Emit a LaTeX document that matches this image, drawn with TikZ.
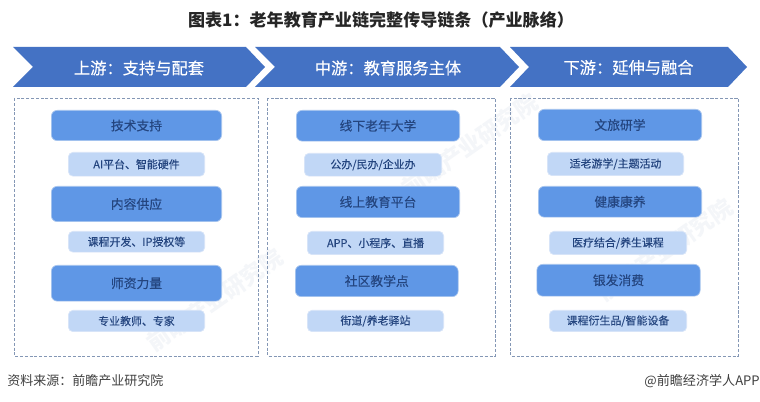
\documentclass[tikz,border=0pt]{standalone}
\usepackage{fontspec}
\setmainfont{Noto Sans CJK SC}
\newfontfamily\semifont[FakeBold=0.25]{Noto Sans CJK SC}
\definecolor{chev}{HTML}{4472C4}
\definecolor{mainfill}{HTML}{5F97E6}
\definecolor{mainedge}{HTML}{A9C6EE}
\definecolor{subfill}{HTML}{C1D7F6}
\definecolor{subedge}{HTML}{D8E5F8}
\definecolor{boxtext}{HTML}{24457F}
\definecolor{dashcol}{HTML}{8497B5}
\definecolor{marktext}{HTML}{F4F6F9}
\tikzset{
  x=0.75pt,y=-0.75pt,
  chevshape/.style={fill=chev,draw=none},
  chevlabel/.style={text=white,font=\semifont\fontsize{12.2pt}{14pt}\selectfont},
  dashbox/.style={draw=dashcol,line width=0.7pt,dash pattern=on 2.3pt off 1.3pt},
  mainbox/.style={fill=mainfill,draw=mainedge,line width=0.5pt,rounded corners=4.5pt,text=boxtext,font=\semifont\fontsize{9.6pt}{11pt}\selectfont},
  subbox/.style={fill=subfill,draw=subedge,line width=0.5pt,rounded corners=3.5pt,text=boxtext,font=\semifont\fontsize{8.2pt}{9pt}\selectfont},
  watermark/.style={text=marktext,rotate=35,font=\bfseries\fontsize{17pt}{20pt}\selectfont},
  titletext/.style={text=black!85,font=\bfseries\fontsize{12.8pt}{15pt}\selectfont},
  foottext/.style={text=black!75,font=\fontsize{9.75pt}{12pt}\selectfont},
  brandtext/.style={text=black!75,font=\fontsize{9.8pt}{12pt}\selectfont},
}
% name, style, x1, y1, x2, y2, text
\newcommand{\pxbox}[7]{%
  \pgfmathsetmacro{\bw}{(#5-#3)*0.75-0.5}%
  \pgfmathsetmacro{\bh}{(#6-#4)*0.75-0.5}%
  \node[#2,inner sep=0pt,minimum width=\bw pt,minimum height=\bh pt] (#1) at ({(#3+#5)/2},{(#4+#6)/2}) {#7};%
}
\begin{document}
\begin{tikzpicture}
\useasboundingbox (0,0) rectangle (760,402);
\fill[white] (0,0) rectangle (760,402);
% faint watermarks
\node[watermark] (wma) at (215,300) {前瞻产业研究院};
\node[watermark] (wmb) at (470,145) {前瞻产业研究院};
\node[watermark] (wmc) at (665,250) {前瞻产业研究院};
% title
\node[titletext] (title) at (381,20) {图表1：老年教育产业链完整传导链条（产业脉络）};
% chevrons
\fill[chevshape] (13,47) -- (246,47) -- (265,67) -- (246,87) -- (13,87) -- (33,67) -- cycle;
\fill[chevshape] (255,47) -- (500,47) -- (519,67) -- (500,87) -- (255,87) -- (275,67) -- cycle;
\fill[chevshape] (510,47) -- (728,47) -- (747,67) -- (728,87) -- (510,87) -- (529,67) -- cycle;
\node[chevlabel] (ca) at (139,68) {上游：支持与配套};
\node[chevlabel] (cb) at (388,68) {中游：教育服务主体};
\node[chevlabel] (cc) at (628.5,67.5) {下游：延伸与融合};
% dashed panels
\draw[dashbox] (14,98) rectangle (258,356);
\draw[dashbox] (267.5,98) rectangle (495,356);
\draw[dashbox] (510.5,98) rectangle (738,356);
% left column
\pxbox{la}{mainbox}{51}{110}{222}{141}{技术支持}
\pxbox{lb}{subbox}{68}{152}{205}{176.5}{AI平台、智能硬件}
\pxbox{lc}{mainbox}{51}{186}{222}{222}{内容供应}
\pxbox{ld}{subbox}{68}{231}{205}{252.5}{课程开发、IP授权等}
\pxbox{le}{mainbox}{51}{265}{222}{301.5}{师资力量}
\pxbox{lf}{subbox}{68}{310}{205}{332}{专业教师、专家}
% middle column
\pxbox{ma}{mainbox}{296}{110}{460}{141.5}{线下老年大学}
\pxbox{mb}{subbox}{304}{153}{442}{176.5}{公办/民办/企业办}
\pxbox{mc}{mainbox}{296}{186}{460}{218}{线上教育平台}
\pxbox{md}{subbox}{307}{231}{444}{255}{APP、小程序、直播}
\pxbox{me}{mainbox}{295}{265}{458.5}{297}{社区教学点}
\pxbox{mf}{subbox}{307}{310}{444}{332}{街道/养老驿站}
% right column
\pxbox{ra}{mainbox}{538}{109}{702}{141}{文旅研学}
\pxbox{rb}{subbox}{547}{152}{684}{176}{适老游学/主题活动}
\pxbox{rc}{mainbox}{538}{186}{702}{217.5}{健康康养}
\pxbox{rd}{subbox}{549}{231}{687}{255}{医疗结合/养生课程}
\pxbox{re}{mainbox}{536.5}{264}{700.5}{296.5}{银发消费}
\pxbox{rf}{subbox}{549}{310}{687}{332}{课程衍生品/智能设备}
% footer
\node[foottext,anchor=west,inner sep=0pt] (src) at (7,381) {资料来源：前瞻产业研究院};
\node[brandtext,anchor=east,inner sep=0pt] (brand) at (760,381) {@前瞻经济学人APP};
\end{tikzpicture}
\end{document}
